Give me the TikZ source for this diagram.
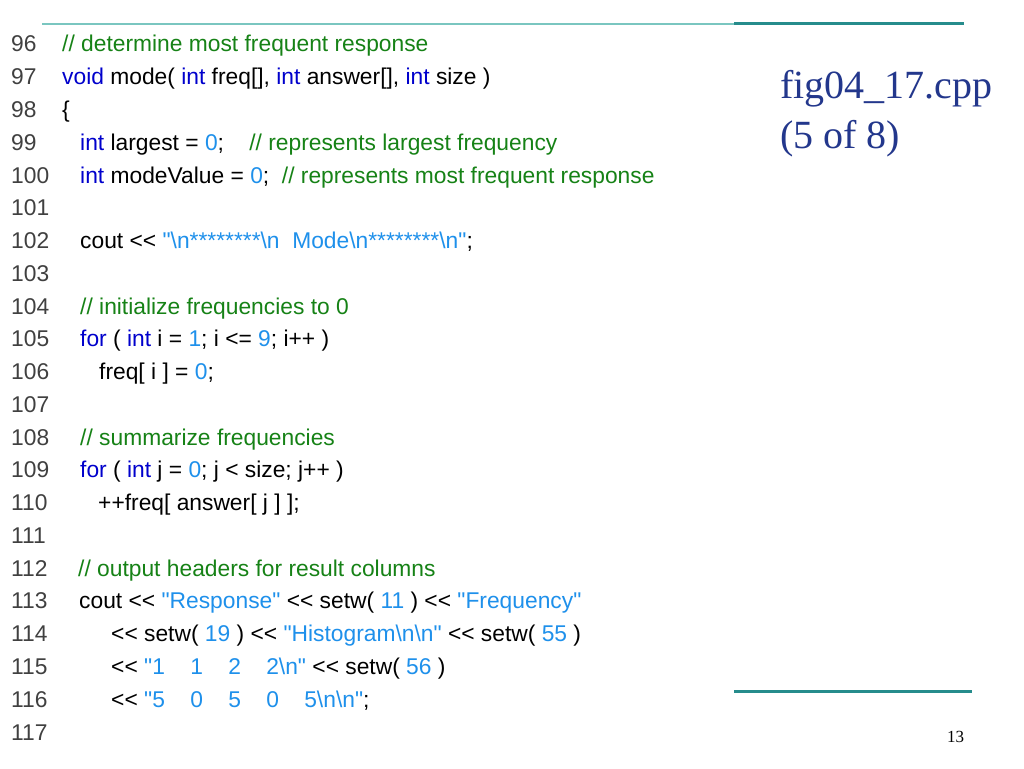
\documentclass[tikz,border=0pt]{standalone}
\usepackage{fontspec}
\setmainfont{Liberation Serif}
\newfontfamily\codefont{Liberation Sans}

\definecolor{kwblue}{RGB}{0,0,204}
\definecolor{litblue}{RGB}{30,144,235}
\definecolor{cmtgreen}{RGB}{22,130,22}
\definecolor{numgray}{RGB}{64,64,64}
\definecolor{titleblue}{RGB}{35,55,140}
\definecolor{rulelight}{RGB}{122,198,192}
\definecolor{ruledark}{RGB}{38,140,140}

\newcommand{\kw}[1]{\textcolor{kwblue}{#1}}
\newcommand{\lit}[1]{\textcolor{litblue}{#1}}
\newcommand{\cmt}[1]{\textcolor{cmtgreen}{#1}}
\newcommand{\bs}{\textbackslash}
\newcommand{\outop}{<\kern0pt<}

\tikzset{
  lineno/.style={anchor=base west, inner sep=0pt, text=numgray,
    font=\codefont\fontsize{22.8}{26}\selectfont},
  codeline/.style={anchor=base west, inner sep=0pt,
    font=\codefont\fontsize{22.8}{26}\selectfont},
  title/.style={anchor=base west, inner sep=0pt, text=titleblue,
    font=\fontsize{40}{48}\selectfont},
  pageno/.style={anchor=base west, inner sep=0pt,
    font=\fontsize{17}{20}\selectfont},
}

\begin{document}
\begin{tikzpicture}[x=1pt,y=-1pt]
  \fill[white] (0,0) rectangle (1024,768);
  \useasboundingbox (0,0) rectangle (1024,768);

  % rules
  \coordinate (topL) at (42,24);
  \coordinate (topM) at (734,24);
  \coordinate (topR) at (964,24);
  \coordinate (botL) at (734,691);
  \coordinate (botR) at (972,691);
  \draw[rulelight, line width=2pt] (topL) -- (topM);
  \draw[ruledark, line width=3pt] (topM) -- (topR);
  \draw[ruledark, line width=3pt] (botL) -- (botR);

  % title
  \node[title] (fname) at (780,98) {fig04\_17.cpp};
  \node[title] (part) at (780,148) {(5 of 8)};
  \node[pageno] (pg) at (947,742) {13};

  % line numbers
  \node[lineno] (n96) at (11,52) {96};
  \node[lineno] (n97) at (11,84.8) {97};
  \node[lineno] (n98) at (11,117.5) {98};
  \node[lineno] (n99) at (11,150.3) {99};
  \node[lineno] (n100) at (11,183) {100};
  \node[lineno] (n101) at (11,215.8) {101};
  \node[lineno] (n102) at (11,248.6) {102};
  \node[lineno] (n103) at (11,281.3) {103};
  \node[lineno] (n104) at (11,314.1) {104};
  \node[lineno] (n105) at (11,346.8) {105};
  \node[lineno] (n106) at (11,379.6) {106};
  \node[lineno] (n107) at (11,412.4) {107};
  \node[lineno] (n108) at (11,445.1) {108};
  \node[lineno] (n109) at (11,477.9) {109};
  \node[lineno] (n110) at (11,510.6) {110};
  \node[lineno] (n111) at (11,543.4) {111};
  \node[lineno] (n112) at (11,576.2) {112};
  \node[lineno] (n113) at (11,608.9) {113};
  \node[lineno] (n114) at (11,641.7) {114};
  \node[lineno] (n115) at (11,674.4) {115};
  \node[lineno] (n116) at (11,707.2) {116};
  \node[lineno] (n117) at (11,740) {117};

  % code
  \node[codeline] (c96) at (62,52) {\cmt{// determine most frequent response}};
  \node[codeline] (c97) at (62,84.8) {\kw{void} mode( \kw{int} freq[], \kw{int} answer[], \kw{int} size )};
  \node[codeline] (c98) at (62,117.5) {\{};
  \node[codeline] (c99) at (80,150.3) {\kw{int} largest = \lit{0};~~~~\cmt{// represents largest frequency}};
  \node[codeline] (c100) at (80,183) {\kw{int} modeValue = \lit{0};~~\cmt{// represents most frequent response}};
  \node[codeline] (c102) at (80,248.6) {cout \outop{} \lit{"\bs n********\bs n~~Mode\bs n********\bs n"};};
  \node[codeline] (c104) at (80,314.1) {\cmt{// initialize frequencies to 0}};
  \node[codeline] (c105) at (80,346.8) {\kw{for} ( \kw{int} i = \lit{1}; i <= \lit{9}; i++ )};
  \node[codeline] (c106) at (99,379.6) {freq[ i ] = \lit{0};};
  \node[codeline] (c108) at (80,445.1) {\cmt{// summarize frequencies}};
  \node[codeline] (c109) at (80,477.9) {\kw{for} ( \kw{int} j = \lit{0}; j < size; j++ )};
  \node[codeline] (c110) at (98,510.6) {++freq[ answer[ j ] ];};
  \node[codeline] (c112) at (78,576.2) {\cmt{// output headers for result columns}};
  \node[codeline] (c113) at (79,608.9) {cout \outop{} \lit{"Response"} \outop{} setw( \lit{11} ) \outop{} \lit{"Frequency"}};
  \node[codeline] (c114) at (111,641.7) {\outop{} setw( \lit{19} ) \outop{} \lit{"Histogram\bs n\bs n"} \outop{} setw( \lit{55} )};
  \node[codeline] (c115) at (111,674.4) {\outop{} \lit{"1~~~~1~~~~2~~~~2\bs n"} \outop{} setw( \lit{56} )};
  \node[codeline] (c116) at (111,707.2) {\outop{} \lit{"5~~~~0~~~~5~~~~0~~~~5\bs n\bs n"};};
\end{tikzpicture}
\end{document}
